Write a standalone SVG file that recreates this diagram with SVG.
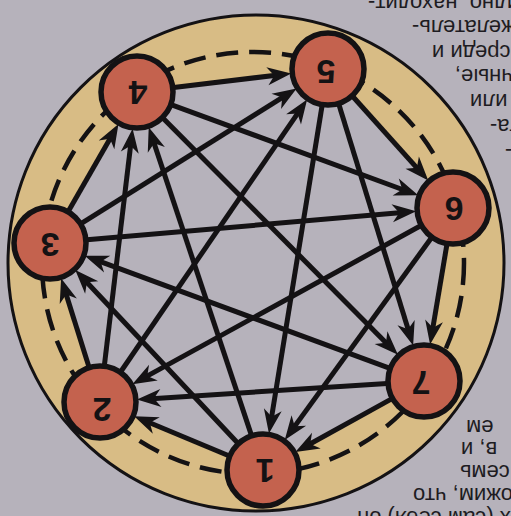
<svg xmlns="http://www.w3.org/2000/svg" width="511" height="516" viewBox="0 0 511 516">
<defs>
<style>
.pg{font-family:"Liberation Sans",Arial,sans-serif;font-size:22px;fill:#1e1c22}
.node circle{fill:#c4624e;stroke:#141214;stroke-width:5.5}
.node text{font-family:"Liberation Sans",Arial,sans-serif;font-size:34px;font-weight:bold;fill:#141214;text-anchor:middle}
.edge{stroke:#141214;stroke-width:5;fill:none;marker-end:url(#ah)}
</style>
<marker id="ah" markerUnits="userSpaceOnUse" viewBox="-15 -10 30 20" markerWidth="30" markerHeight="20" refX="0" refY="0" orient="auto">
<path d="M11,0 L-13,-9 L-6,0 L-13,9 Z" fill="#141214"/>
</marker>
</defs>
<rect width="511" height="516" fill="#b6b2bb"/>
<g id="page-text" class="pg" text-anchor="end">
<text transform="translate(368,-4.5) rotate(180)">видно. находит-</text>
<text transform="translate(412,20) rotate(180)">желатель-</text>
<text transform="translate(432,44.5) rotate(180)">среди и</text>
<text transform="translate(455,69) rotate(180)">ичные,</text>
<text transform="translate(470,94) rotate(180)">или</text>
<text transform="translate(490,119) rotate(180)">та-</text>
<text transform="translate(505,144) rotate(180)">-</text>
<text transform="translate(466,420) rotate(180)">ем</text>
<text transform="translate(461,442) rotate(180)">в, и</text>
<text transform="translate(460,465) rotate(180)">семь</text>
<text transform="translate(413,488) rotate(180)">ожим, что</text>
<text transform="translate(357,511) rotate(180)">х (сам себя) он</text>
</g>
<circle cx="256" cy="263" r="248" fill="#d8bc85" stroke="#141214" stroke-width="3"/>
<polygon points="263,470 100,402 50,243 137,92 328,69 453,208 424,381" fill="#b6b2bb"/>
<circle cx="253" cy="263" r="211" fill="none" stroke="#141214" stroke-width="4.5" stroke-dasharray="22 11"/>
<g id="connectors">
<line class="edge" x1="228.8" y1="455.8" x2="144.3" y2="420.5"/>
<line class="edge" x1="237.7" y1="443" x2="82.8" y2="278"/>
<line class="edge" x1="251.3" y1="434.9" x2="152.2" y2="137.6"/>
<line class="edge" x1="88.9" y1="366.7" x2="64.4" y2="288.8"/>
<line class="edge" x1="104.4" y1="365.3" x2="131.3" y2="139.7"/>
<line class="edge" x1="120.9" y1="371.5" x2="300.9" y2="108.6"/>
<line class="edge" x1="68.5" y1="211" x2="113" y2="133.6"/>
<line class="edge" x1="81.4" y1="223.4" x2="287.3" y2="94.4"/>
<line class="edge" x1="86.9" y1="239.8" x2="405.2" y2="212.2"/>
<line class="edge" x1="173.7" y1="87.6" x2="280.3" y2="74.7"/>
<line class="edge" x1="171.7" y1="104.8" x2="407.9" y2="191.5"/>
<line class="edge" x1="163.1" y1="118.3" x2="390.2" y2="346.9"/>
<line class="edge" x1="352.8" y1="96.5" x2="420.9" y2="172.3"/>
<line class="edge" x1="338.9" y1="104.4" x2="409.9" y2="335.1"/>
<line class="edge" x1="322.1" y1="105.5" x2="270.7" y2="422.6"/>
<line class="edge" x1="446.9" y1="244.5" x2="431.9" y2="333.7"/>
<line class="edge" x1="431.3" y1="238" x2="291.2" y2="431.1"/>
<line class="edge" x1="420.6" y1="225.8" x2="142" y2="378.9"/>
<line class="edge" x1="391.6" y1="398.9" x2="305" y2="446.8"/>
<line class="edge" x1="387.1" y1="383.4" x2="147.9" y2="398.9"/>
<line class="edge" x1="389.3" y1="368.2" x2="95" y2="259.6"/>
</g>
<g id="node1" class="node"><circle cx="263" cy="470" r="36"/><text x="265" y="483" transform="rotate(180 265 471)">1</text></g>
<g id="node2" class="node"><circle cx="100" cy="402" r="36"/><text x="102" y="422" transform="rotate(180 102 410)">2</text></g>
<g id="node3" class="node"><circle cx="50" cy="243" r="36"/><text x="50" y="257" transform="rotate(180 50 245)">3</text></g>
<g id="node4" class="node"><circle cx="137" cy="92" r="36"/><text x="138" y="105" transform="rotate(180 138 93)">4</text></g>
<g id="node5" class="node"><circle cx="328" cy="69" r="36"/><text x="326" y="84" transform="rotate(180 326 72)">5</text></g>
<g id="node6" class="node"><circle cx="453" cy="208" r="36"/><text x="454" y="221" transform="rotate(180 454 209)">6</text></g>
<g id="node7" class="node"><circle cx="424" cy="381" r="36"/><text x="421" y="395" transform="rotate(180 421 383)">7</text></g>
</svg>
